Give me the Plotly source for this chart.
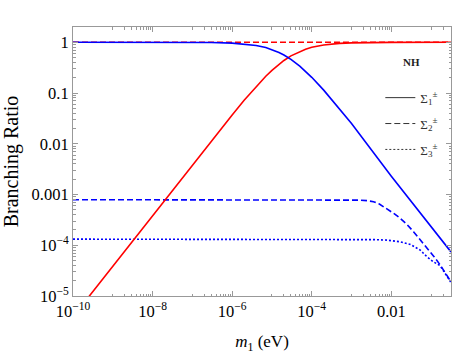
import plotly.graph_objects as go

# ---- data ----
m1_solid = [1e-10, 1e-9, 1e-8, 1e-7, 3e-7, 1e-6, 2e-6, 4e-6, 7e-6, 1e-5, 1.5e-5, 2e-5,
            3e-5, 5e-5, 7e-5, 1e-4, 2e-4, 5e-4, 1e-3, 1e-2, 0.1, 0.316]
br_sigma1_blue = [1.0, 1.0, 1.0, 0.996, 0.989, 0.963, 0.928, 0.865, 0.786, 0.72, 0.63, 0.562,
                  0.461, 0.34, 0.268, 0.204, 0.114, 0.049, 0.025, 0.0023, 2.35e-4, 7.4e-5]
br_sigma1_red = [3.9e-6, 3.9e-5, 3.9e-4, 3.9e-3, 0.0115, 0.037, 0.072, 0.135, 0.214, 0.28, 0.37, 0.438,
                 0.539, 0.66, 0.732, 0.796, 0.886, 0.951, 0.975, 0.9975, 0.9997, 0.9999]

m1_dashed = [1e-10, 1e-8, 1e-6, 1e-4, 1e-3, 1.66e-3, 2.5e-3, 3.57e-3, 5e-3, 7.74e-3, 0.012,
             0.01675, 0.025, 0.0361, 0.055, 0.0783, 0.12, 0.169, 0.23, 0.316]
br_sigma2_blue = [7.9e-4, 7.9e-4, 7.9e-4, 7.9e-4, 7.85e-4, 7.75e-4, 7.55e-4, 7.2e-4, 6.5e-4, 5.3e-4, 4.15e-4,
                  3.4e-4, 2.55e-4, 1.85e-4, 1.25e-4, 8.7e-5, 5.9e-5, 4.1e-5, 2.8e-5, 1.9e-5]
m1_red_dashed = [1e-10, 1e-6, 1e-4, 1e-2, 0.316]
br_sigma2_red = [0.9992, 0.9992, 0.9992, 0.9995, 0.99998]

m1_dotted = [1e-10, 1e-6, 1e-3, 1.66e-3, 4e-3, 7.74e-3, 0.01675, 0.0299, 0.0532, 0.0783,
             0.115, 0.169, 0.316]
br_sigma3_blue = [1.32e-4, 1.32e-4, 1.32e-4, 1.31e-4, 1.29e-4, 1.26e-4, 1.17e-4, 1.04e-4, 8.05e-5, 5.95e-5,
                  4.7e-5, 3.95e-5, 1.85e-5]

x_tickvals = [1e-10, 1e-8, 1e-6, 1e-4, 1e-2]
x_ticktext = ["10<sup>\u221210</sup>", "10<sup>\u22128</sup>", "10<sup>\u22126</sup>",
              "10<sup>\u22124</sup>", "0.01"]
y_tickvals = [1, 0.1, 0.01, 0.001, 1e-4, 1e-5]
y_ticktext = ["1", "0.1", "0.01", "0.001", "10<sup>\u22124</sup>", "10<sup>\u22125</sup>"]
legend_names = ["\u03a3<sub>1</sub><sup>\u00b1</sup>", "\u03a3<sub>2</sub><sup>\u00b1</sup>",
                "\u03a3<sub>3</sub><sup>\u00b1</sup>"]

x_minor = [j * 10.0 ** n for n in (-9, -7, -5, -3, -1) for j in range(1, 10)]
y_minor = [j * 10.0 ** n for n in (-5, -4, -3, -2, -1, 0) for j in range(2, 10)]

SERIF = "'Liberation Serif', 'Times New Roman', 'DejaVu Serif', serif"
BLUE = "#0000ff"
RED = "#ff0000"
LW = 1.6
DASH = "6px,3px"
DOT = "2px,2px"

fig = go.Figure()
fig.add_trace(go.Scatter(x=m1_red_dashed, y=br_sigma2_red, mode="lines",
                         line=dict(color=RED, width=LW, dash=DASH), showlegend=False))
fig.add_trace(go.Scatter(x=m1_dashed, y=br_sigma2_blue, mode="lines",
                         line=dict(color=BLUE, width=LW, dash=DASH), showlegend=False))
fig.add_trace(go.Scatter(x=m1_dotted, y=br_sigma3_blue, mode="lines",
                         line=dict(color=BLUE, width=LW, dash=DOT), showlegend=False))
fig.add_trace(go.Scatter(x=m1_solid, y=br_sigma1_red, mode="lines",
                         line=dict(color=RED, width=LW), showlegend=False))
fig.add_trace(go.Scatter(x=m1_solid, y=br_sigma1_blue, mode="lines",
                         line=dict(color=BLUE, width=LW), showlegend=False))

# legend entries
for name, dash, grp in zip(legend_names, ["solid", DASH, DOT], ["a", "b", "c"]):
    fig.add_trace(go.Scatter(x=[None], y=[None], mode="lines", name=name, legendgroup=grp,
                             line=dict(color="#333333", width=1, dash=dash)))

axis_common = dict(
    type="log", showline=True, linecolor="#999999", linewidth=1, mirror="ticks",
    ticks="inside", ticklen=5, tickcolor="#999999", tickwidth=1,
    showgrid=False, zeroline=False, tickfont=dict(size=16.5, family=SERIF),
)

fig.update_xaxes(
    **axis_common, range=[-10, -0.5], tickvals=x_tickvals, ticktext=x_ticktext,
    minor=dict(tickvals=x_minor, ticks="inside", ticklen=2.5, tickcolor="#999999", showgrid=False),
    title=dict(text="<i>m</i><sub>1</sub> (eV)", font=dict(size=17, family=SERIF), standoff=15),
)
fig.update_yaxes(
    **axis_common, range=[-5, 0.301], tickvals=y_tickvals, ticktext=y_ticktext,
    minor=dict(tickvals=y_minor, ticks="inside", ticklen=2.5, tickcolor="#999999", showgrid=False),
    title=dict(text="Branching Ratio", font=dict(size=20, family=SERIF), standoff=13),
)

fig.add_annotation(text="<b>NH</b>", xref="paper", yref="paper", x=0.896, y=0.871,
                   xanchor="center", yanchor="middle",
                   showarrow=False, font=dict(size=11, color="#222222", family=SERIF))

fig.update_layout(
    width=454, height=354,
    margin=dict(l=73, r=3, t=27, b=58, autoexpand=False),
    plot_bgcolor="white", paper_bgcolor="white",
    font=dict(family=SERIF, size=16.5, color="black"),
    legend=dict(x=0.813, y=0.793, xanchor="left", yanchor="top", bgcolor="rgba(0,0,0,0)",
                font=dict(size=13, color="#333333", family=SERIF), tracegroupgap=6, itemwidth=30),
)

fig.write_html("out.html", config={"displayModeBar": False},
               post_script="document.body.style.margin='0';")
